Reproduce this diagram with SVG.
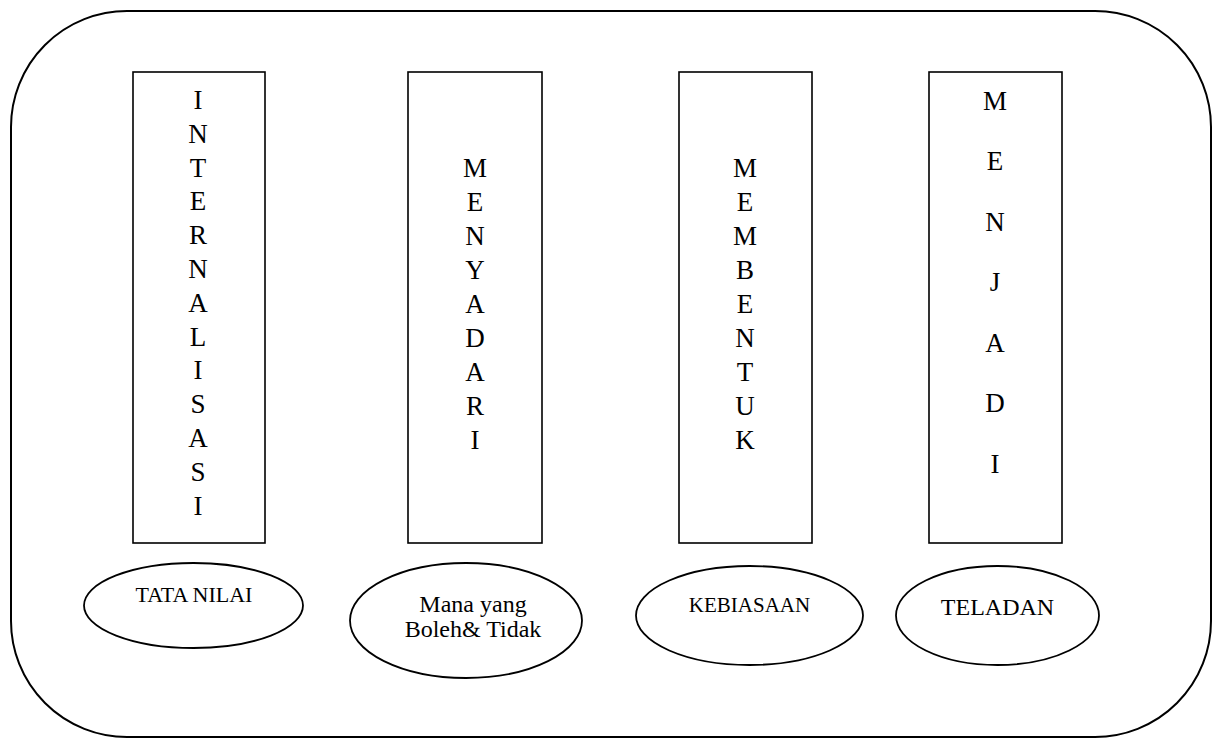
<svg xmlns="http://www.w3.org/2000/svg" width="1218" height="738" viewBox="0 0 1218 738" font-family="'Liberation Serif', 'Times New Roman', serif">
<style>
.frame{fill:none;stroke:#000;stroke-width:2}
.box{fill:#fff;stroke:#000;stroke-width:1.6}
.oval{fill:#fff;stroke:#000;stroke-width:1.8}
.col{font-family:'Liberation Serif','Times New Roman',serif;font-size:27px;fill:#000;text-anchor:middle}
.lbl{font-family:'Liberation Serif','Times New Roman',serif;font-size:22px;fill:#000;text-anchor:middle}
</style>
<rect width="1218" height="738" fill="#fff"/>
<rect id="frame" class="frame" x="11" y="11" width="1200" height="726" rx="116" ry="116"/>
<g id="connectors"/>
<g id="node-internalisasi">
<rect class="box" x="133" y="72" width="132" height="471"/>
<text class="col">
<tspan x="198" y="109">I</tspan><tspan x="198" y="143">N</tspan><tspan x="198" y="177">T</tspan><tspan x="198" y="210">E</tspan><tspan x="198" y="244">R</tspan><tspan x="198" y="278">N</tspan><tspan x="198" y="312">A</tspan><tspan x="198" y="346">L</tspan><tspan x="198" y="379">I</tspan><tspan x="198" y="413">S</tspan><tspan x="198" y="447">A</tspan><tspan x="198" y="481">S</tspan><tspan x="198" y="515">I</tspan>
</text>
</g>
<g id="node-menyadari">
<rect class="box" x="408" y="72" width="134" height="471"/>
<text class="col">
<tspan x="475" y="177">M</tspan><tspan x="475" y="211">E</tspan><tspan x="475" y="245">N</tspan><tspan x="475" y="279">Y</tspan><tspan x="475" y="313">A</tspan><tspan x="475" y="347">D</tspan><tspan x="475" y="381">A</tspan><tspan x="475" y="415">R</tspan><tspan x="475" y="449">I</tspan>
</text>
</g>
<g id="node-membentuk">
<rect class="box" x="679" y="72" width="133" height="471"/>
<text class="col">
<tspan x="745" y="177">M</tspan><tspan x="745" y="211">E</tspan><tspan x="745" y="245">M</tspan><tspan x="745" y="279">B</tspan><tspan x="745" y="313">E</tspan><tspan x="745" y="347">N</tspan><tspan x="745" y="381">T</tspan><tspan x="745" y="415">U</tspan><tspan x="745" y="449">K</tspan>
</text>
</g>
<g id="node-menjadi">
<rect class="box" x="929" y="72" width="133" height="471"/>
<text class="col">
<tspan x="995" y="110">M</tspan><tspan x="995" y="170">E</tspan><tspan x="995" y="231">N</tspan><tspan x="995" y="291">J</tspan><tspan x="995" y="352">A</tspan><tspan x="995" y="412">D</tspan><tspan x="995" y="473">I</tspan>
</text>
</g>
<g id="node-tata-nilai">
<ellipse class="oval" cx="193.5" cy="605.5" rx="109.5" ry="42.5"/>
<text class="lbl" x="194" y="602">TATA NILAI</text>
</g>
<g id="node-mana-yang">
<ellipse class="oval" cx="466" cy="620.5" rx="116" ry="57.5"/>
<text class="lbl" style="font-size:24px"><tspan x="473" y="612">Mana yang</tspan><tspan x="473" y="637">Boleh&amp; Tidak</tspan></text>
</g>
<g id="node-kebiasaan">
<ellipse class="oval" cx="749.5" cy="615.5" rx="113.5" ry="49.5"/>
<text class="lbl" x="749.5" y="612" style="font-size:21px">KEBIASAAN</text>
</g>
<g id="node-teladan">
<ellipse class="oval" cx="997.5" cy="615.5" rx="101.5" ry="49.5"/>
<text class="lbl" x="997.5" y="615" style="font-size:24px">TELADAN</text>
</g>
</svg>
